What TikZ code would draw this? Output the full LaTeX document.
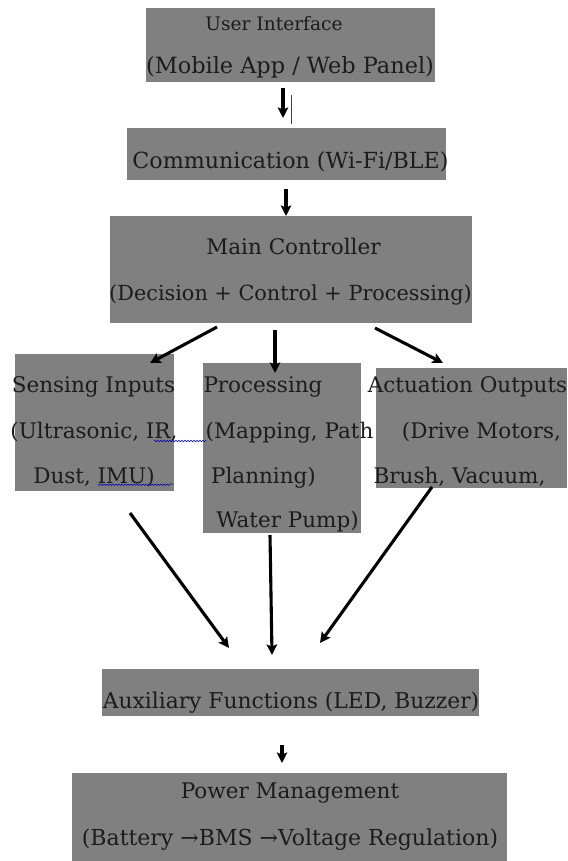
\documentclass[tikz,border=0pt]{standalone}
\usepackage{fontspec}
\setmainfont{DejaVu Serif}
\usetikzlibrary{arrows.meta,calc,decorations.pathmorphing}
\definecolor{boxgray}{RGB}{128,128,128}
\definecolor{inkgray}{RGB}{28,28,28}
\tikzset{
	blk/.style={fill=boxgray,inner sep=0pt,outer sep=0pt,anchor=north west},
	txt/.style={anchor=base,inner sep=0pt,text=inkgray,font=\fontsize{21.5}{25}\selectfont},
	flow/.style={-{Stealth[length=10.5pt,width=10.5pt,inset=2pt]},line width=3.1pt},
	squig/.style={draw=blue!70!black,line width=.6pt,decorate,decoration={snake,amplitude=.7pt,segment length=3pt}}
}
\begin{document}
\begin{tikzpicture}[x=1pt,y=-1pt]
		\useasboundingbox (0,0) rectangle (567,861);
		\foreach \n/\x/\y/\w/\h in {ui/146/8/289/74,comm/127/128/319/52,ctrl/110/216/362/107,sense/15/354/159/137,proc/203/363/158/170,act/376/368/191/120,aux/102/669/377/47,pwr/72/773/435/88}
		\node[blk,minimum width=\w pt,minimum height=\h pt] (\n) at (\x,\y) {};
		% texts
		\node[txt,font=\fontsize{18.6}{22}\selectfont] (ui-a) at (274,31) {User Interface};
		\node[txt,font=\fontsize{22.4}{26}\selectfont] (ui-b) at (290,74) {(Mobile App / Web Panel)};
		\node[txt,font=\fontsize{22.2}{26}\selectfont] (comm-a) at (290.5,168) {Communication (Wi-Fi/BLE)};
		\node[txt] (ctrl-a) at (293.5,254) {Main Controller};
		\node[txt,font=\fontsize{20.8}{24}\selectfont] (ctrl-b) at (290.5,300) {(Decision + Control + Processing)};
		\node[txt] (sense-a) at (93.5,392) {Sensing Inputs};
		\node[txt] (sense-b) at (94,438) {(Ultrasonic, IR,};
		\node[txt] (sense-c) at (94,483) {Dust, IMU)};
		\node[txt] (proc-a) at (263,392) {Processing};
		\node[txt] (proc-b) at (289.5,438) {(Mapping, Path};
		\node[txt] (proc-c) at (263.5,483) {Planning)};
		\node[txt] (proc-d) at (287.5,527) {Water Pump)};
		\node[txt] (act-a) at (467.5,392) {Actuation Outputs};
		\node[txt] (act-b) at (481.5,438) {(Drive Motors,};
		\node[txt] (act-c) at (459.5,483) {Brush, Vacuum,};
		\node[txt,font=\fontsize{21.8}{25}\selectfont] (aux-a) at (291,708) {Auxiliary Functions (LED, Buzzer)};
		\node[txt] (pwr-a) at (290,798) {Power Management};
		\node[txt,font=\fontsize{22}{26}\selectfont] (pwr-b) at (290,845) {(Battery →BMS →Voltage Regulation)};
		\draw[squig] (154,441) -- (205,441) (98,484) -- (173,484);
		\draw[black!75,line width=.5pt] (291,95) -- (291,124);
		% arrows
		\draw[flow] ($(ui.south)+(-7.5,6)$) -- ($(comm.north)+(-3.5,-10)$);
		\draw[flow] ($(comm.south)+(-0.5,9)$) -- ($(ctrl.north)+(-5,0)$);
		\draw[flow] ($(ctrl.south west)+(107,4)$) -- ($(sense.north east)+(-24,9)$);
		\draw[flow] ($(ctrl.south)+(-16,7)$) -- ($(proc.north)+(-7,10)$);
		\draw[flow] ($(ctrl.south east)+(-97,5)$) -- ($(act.north west)+(67,-5)$);
		\draw[flow] ($(sense.south)+(35.5,22)$) -- ($(aux.north)+(-61.5,-21)$);
		\draw[flow] ($(proc.south)+(-12,2)$) -- ($(aux.north)+(-18.5,-14)$);
		\draw[flow] ($(act.south west)+(56,-1)$) -- ($(aux.north)+(29.5,-26)$);
		\draw[flow] ($(aux.south)+(-8.5,29)$) -- ($(pwr.north)+(-7.5,-10)$);
\end{tikzpicture}
\end{document}
